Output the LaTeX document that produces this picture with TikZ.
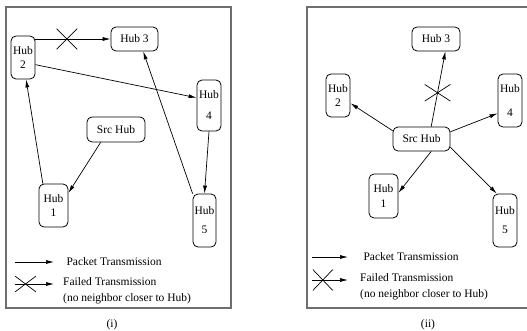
\documentclass[tikz,border=0pt]{standalone}
\usepackage{fontspec}
\setmainfont{Liberation Serif}
\usetikzlibrary{arrows.meta,shapes.misc}
\definecolor{framegray}{RGB}{110,110,110}

\begin{document}
\begin{tikzpicture}[x=1pt,y=-1pt,>={Latex[length=8pt,width=4pt]},
  every node/.style={font=\fontsize{11.5}{13}\selectfont,align=center},
  hub/.style={draw,rounded corners=5pt,inner sep=0pt,line width=0.8pt},
  arr/.style={->,line width=0.7pt},
  fail/.style={cross out,draw,inner sep=0pt,line width=0.7pt},
  frame/.style={draw=framegray,line width=1.2pt}]
  \useasboundingbox (0,0) rectangle (527,331);

  % (i): hop by hop
  \draw[frame] (6,7) rectangle (231,308);
  \node[hub,minimum width=24pt,minimum height=43pt] (h2) at (23,57.5) {Hub\\[1pt]2};
  \node[hub,minimum width=47pt,minimum height=24pt] (h3) at (134.5,39) {Hub 3};
  \node[hub,minimum width=24pt,minimum height=51pt] (h4) at (209,105.5) {Hub\\[8pt]4};
  \node[hub,minimum width=58pt,minimum height=25pt] (src) at (116,129.5) {Src Hub};
  \node[hub,minimum width=29pt,minimum height=43pt] (h1) at (53.5,205.5) {Hub\\[1pt]1};
  \node[hub,minimum width=23pt,minimum height=53pt] (h5) at (204.5,220.5) {Hub\\[6pt]5};
  \draw[arr] (h2.east |- h3.west) -- node[fail,pos=.42,minimum width=20pt,minimum height=20pt] (x1) {} (h3.west);
  \draw[arr] (h2.-30) -- (h4.148);
  \draw[arr] (src.220) -- (h1.40);
  \draw[arr] (h1.116) -- (h2.278);
  \draw[arr] (h5.north west) -- (h3.-55);
  \draw[arr] (h4.south) -- (h5.north);

  % legend (i)
  \node[anchor=west] (lp1) at (63,262) {Packet Transmission};
  \node[anchor=north west,align=left,inner sep=0pt] (lf1) at (63,277) {Failed Transmission\\[3pt](no neighbor closer to Hub)};
  \coordinate (lp1a) at (15,262);
  \coordinate (lp1b) at (54,262);
  \coordinate (lf1a) at (15,284);
  \coordinate (lf1b) at (54,284);
  \draw[arr] (lp1a) -- (lp1b);
  \draw[arr] (lf1a) -- node[fail,pos=.27,minimum width=20pt,minimum height=15pt] (lx1) {} (lf1b);
  \node (cap1) at (112,325) {(i)};

  % (ii): straight from the source
  \draw[frame] (527,7) -- (307,7) -- (307,308) -- (527,308);
  \node[hub,minimum width=48pt,minimum height=24pt] (r3) at (436,39) {Hub 3};
  \node[hub,minimum width=24pt,minimum height=43pt] (r2) at (338,95.5) {Hub\\[1pt]2};
  \node[hub,minimum width=24pt,minimum height=53pt] (r4) at (510,100.5) {Hub\\[11pt]4};
  \node[hub,minimum width=57pt,minimum height=24pt] (rsrc) at (421.5,139) {Src Hub};
  \node[hub,minimum width=29pt,minimum height=44pt] (r1) at (383.5,196) {Hub\\[2pt]1};
  \node[hub,minimum width=24pt,minimum height=53pt] (r5) at (505,220.5) {Hub\\[6pt]5};
  \draw[arr] (rsrc.52) -- node[fail,pos=.45,minimum width=25pt,minimum height=16pt] (x2) {} (r3.-53);
  \draw[arr] (rsrc.164) -- (r2.-32);
  \draw[arr] (rsrc.14) -- (r4.226);
  \draw[arr] (rsrc.-52) -- (r1.12);
  \draw[arr] (rsrc.-16) -- (r5.107);

  % legend (ii)
  \node[anchor=west] (lp2) at (360,257) {Packet Transmission};
  \node[anchor=north west,align=left,inner sep=0pt] (lf2) at (360,273) {Failed Transmission\\[3pt](no neighbor closer to Hub)};
  \coordinate (lp2a) at (312,257);
  \coordinate (lp2b) at (348,257);
  \coordinate (lf2a) at (312,280);
  \coordinate (lf2b) at (348,280);
  \draw[arr] (lp2a) -- (lp2b);
  \draw[arr] (lf2a) -- node[fail,pos=.3,minimum width=19pt,minimum height=20pt] (lx2) {} (lf2b);
  \node (cap2) at (428,325) {(ii)};
\end{tikzpicture}
\end{document}
